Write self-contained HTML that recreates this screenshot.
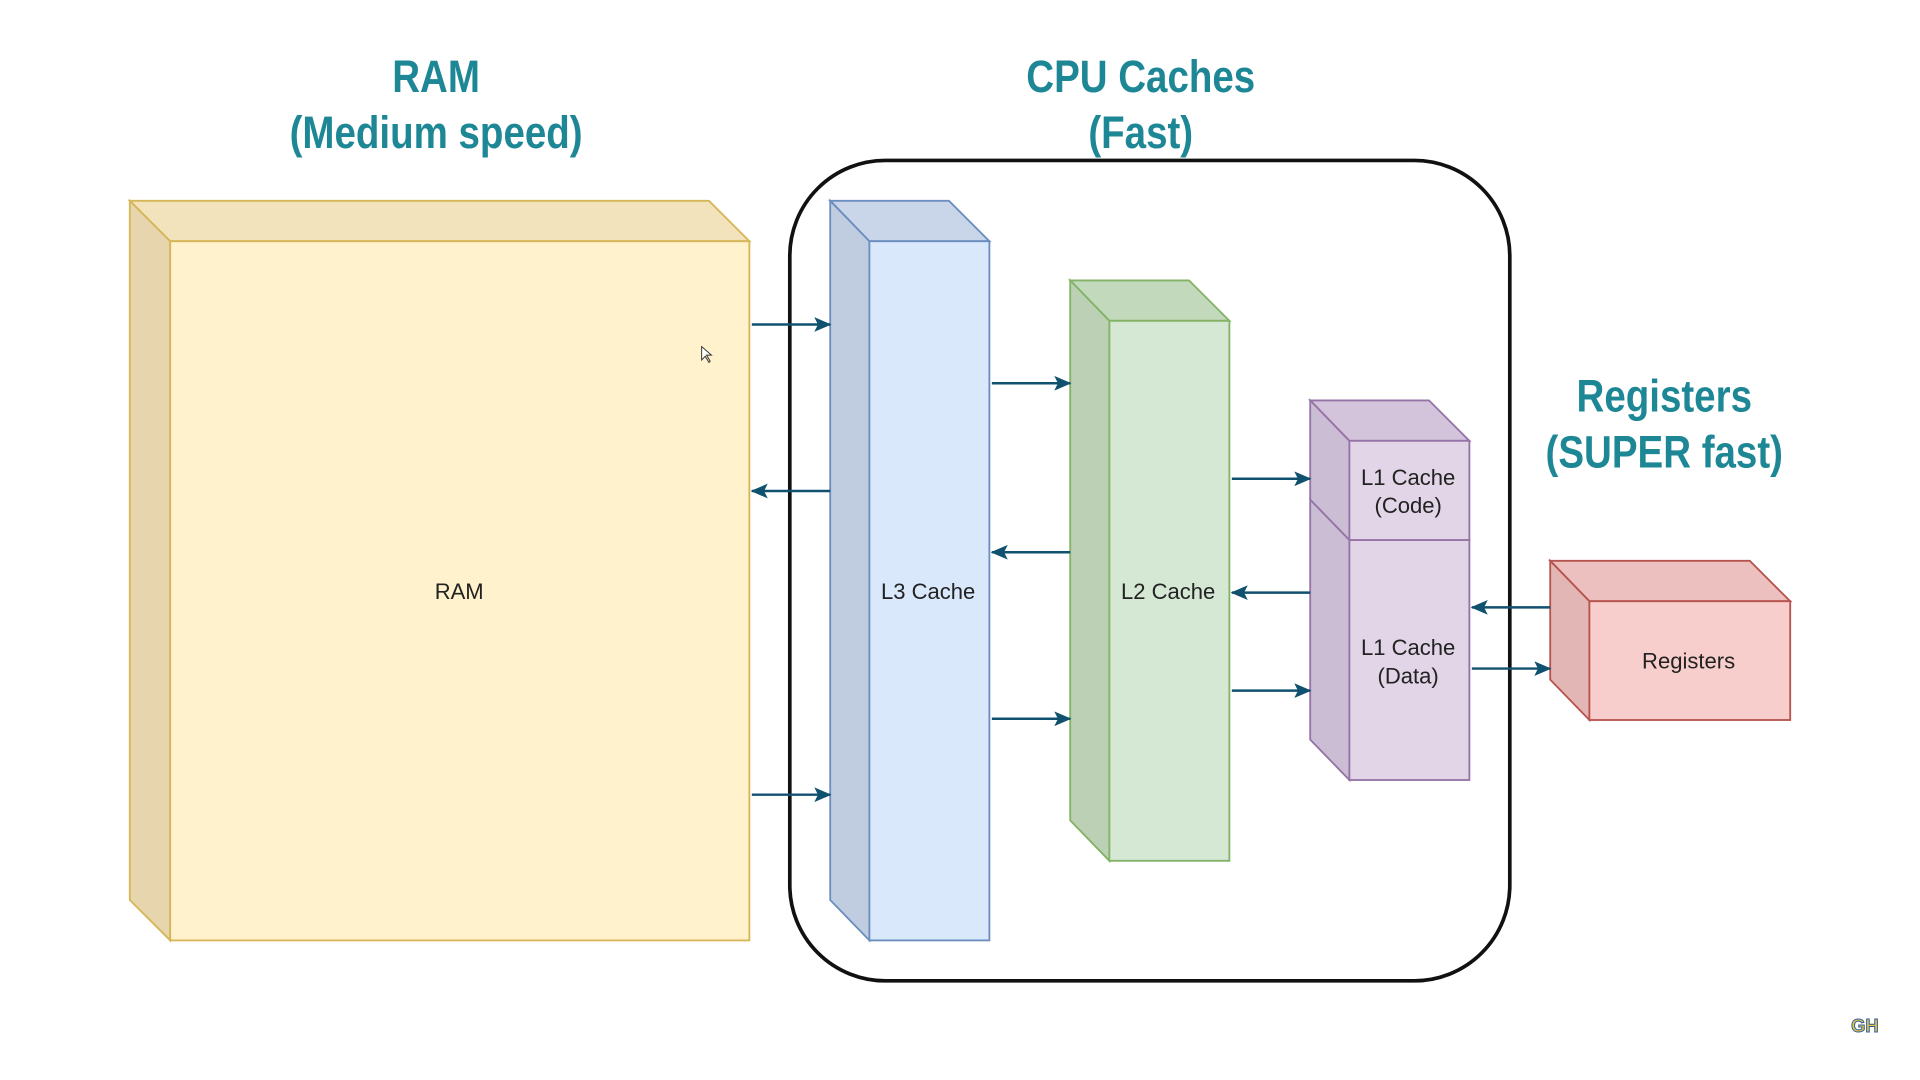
<!DOCTYPE html>
<html><head><meta charset="utf-8"><style>
html,body{margin:0;padding:0;background:#fff;width:1920px;height:1080px;overflow:hidden}
svg{display:block}
.t{font-family:"Liberation Sans",sans-serif;font-weight:bold;fill:#1d8796;font-size:37px;text-anchor:middle}
.l{font-family:"Liberation Sans",sans-serif;fill:#222;font-size:18px;text-anchor:middle}
.a{stroke:#10516f;stroke-width:2;fill:none}
</style></head><body>
<svg width="1920" height="1080" viewBox="0 0 1568 882" preserveAspectRatio="none">
<defs><marker id="m" markerWidth="14" markerHeight="12" refX="13" refY="6" orient="auto" markerUnits="userSpaceOnUse"><path d="M0,0 L14,6 L0,12 L3,6 Z" fill="#10516f"/></marker></defs>
<g class="t" transform="scale(0.85,1)">
<text x="419" y="75">RAM</text><text x="419" y="121">(Medium speed)</text>
<text x="1096" y="75">CPU Caches</text><text x="1096" y="121">(Fast)</text>
<text x="1599" y="336">Registers</text><text x="1599" y="382">(SUPER fast)</text>
</g>
<rect x="645" y="131" width="588" height="670" rx="78" ry="78" fill="none" stroke="#111" stroke-width="3"/>
<g stroke="#d6b656" stroke-width="1.5">
<polygon points="106,164 579,164 612,197 139,197" fill="#f2e3bd"/>
<polygon points="106,164 139,197 139,768 106,735" fill="#e6d5ad"/>
<rect x="139" y="197" width="473" height="571" fill="#fff2cc"/>
</g>
<g stroke="#6c8ebf" stroke-width="1.5">
<polygon points="678,164 775,164 808,197 710,197" fill="#c9d6ea"/>
<polygon points="678,164 710,197 710,768 678,735" fill="#c0cde0"/>
<rect x="710" y="197" width="98" height="571" fill="#dae8fc"/>
</g>
<g stroke="#82b366" stroke-width="1.5">
<polygon points="874,229 971,229 1004,262 906,262" fill="#c3d9bc"/>
<polygon points="874,229 906,262 906,703 874,670" fill="#bbd0b4"/>
<rect x="906" y="262" width="98" height="441" fill="#d5e8d4"/>
</g>
<g stroke="#9673a6" stroke-width="1.5">
<polygon points="1070,408 1102,441 1102,637 1070,604" fill="#cbbdd4"/>
<rect x="1102" y="441" width="98" height="196" fill="#e1d5e7"/>
<polygon points="1070,327 1167,327 1200,360 1102,360" fill="#d3c4dc"/>
<polygon points="1070,327 1102,360 1102,441 1070,408" fill="#cbbdd4"/>
<rect x="1102" y="360" width="98" height="81" fill="#e1d5e7"/>
</g>
<g stroke="#b85450" stroke-width="1.5">
<polygon points="1266,458 1429,458 1462,491 1298,491" fill="#ebc0bf"/>
<polygon points="1266,458 1298,491 1298,588 1266,555" fill="#e2b6b5"/>
<rect x="1298" y="491" width="164" height="97" fill="#f8cecc"/>
</g>
<g class="l">
<text x="375" y="489">RAM</text>
<text x="758" y="489">L3 Cache</text>
<text x="954" y="489">L2 Cache</text>
<text x="1150" y="396">L1 Cache</text><text x="1150" y="419">(Code)</text>
<text x="1150" y="535">L1 Cache</text><text x="1150" y="558">(Data)</text>
<text x="1379" y="546">Registers</text>
</g>
<g class="a">
<line x1="614" y1="265" x2="678" y2="265" marker-end="url(#m)"/>
<line x1="678" y1="401" x2="614" y2="401" marker-end="url(#m)"/>
<line x1="614" y1="649" x2="678" y2="649" marker-end="url(#m)"/>
<line x1="810" y1="313" x2="874" y2="313" marker-end="url(#m)"/>
<line x1="874" y1="451" x2="810" y2="451" marker-end="url(#m)"/>
<line x1="810" y1="587" x2="874" y2="587" marker-end="url(#m)"/>
<line x1="1006" y1="391" x2="1070" y2="391" marker-end="url(#m)"/>
<line x1="1070" y1="484" x2="1006" y2="484" marker-end="url(#m)"/>
<line x1="1006" y1="564" x2="1070" y2="564" marker-end="url(#m)"/>
<line x1="1266" y1="496" x2="1202" y2="496" marker-end="url(#m)"/>
<line x1="1202" y1="546" x2="1266" y2="546" marker-end="url(#m)"/>
</g>
<path d="M573,283 L573,294 L576,291 L579,296 L580,295 L577,290 L581,290 Z" fill="#fff" stroke="#333" stroke-width="0.8"/>
<text x="1523" y="843" font-family="Liberation Sans,sans-serif" font-weight="bold" font-size="15" fill="#e8c440" stroke="#2d5fa0" stroke-width="0.8" text-anchor="middle">GH</text>
</svg>
</body></html>
